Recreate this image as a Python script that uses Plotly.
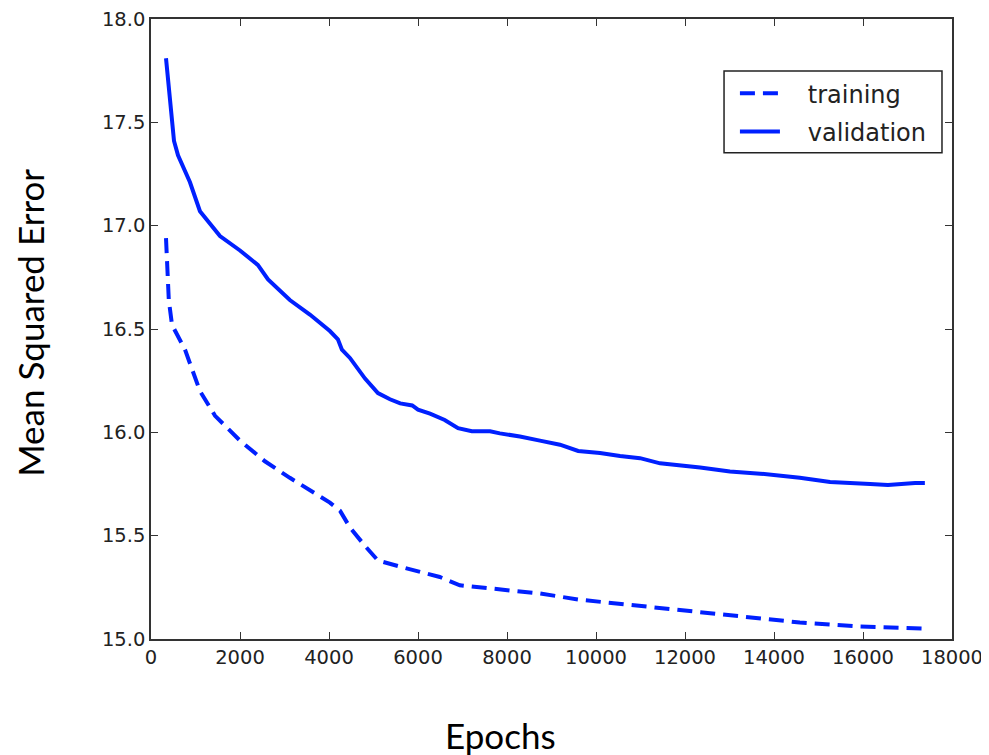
import plotly.graph_objects as go

# Validation curve (solid)
val_epochs = [337, 517, 607, 876, 1100, 1550, 2000, 2400, 2630, 3120, 3570, 4020, 4200, 4290,
              4470, 4810, 5100, 5370, 5600, 5870, 6000, 6270, 6600, 6900, 7210, 7620, 7840,
              8290, 8740, 9190, 9600, 10090, 10540, 10990, 11440, 11890, 12340, 13010, 13690,
              14580, 15260, 16160, 16560, 17170, 17390]
val_mse = [17.81, 17.41, 17.34, 17.21, 17.07, 16.95, 16.88, 16.81, 16.74, 16.64, 16.57, 16.49,
           16.45, 16.40, 16.36, 16.26, 16.19, 16.16, 16.14, 16.13, 16.11, 16.09, 16.06, 16.02,
           16.005, 16.005, 15.995, 15.98, 15.96, 15.94, 15.91, 15.90, 15.885, 15.875, 15.85,
           15.84, 15.83, 15.81, 15.80, 15.78, 15.76, 15.75, 15.745, 15.755, 15.755]

# Training curve (dashed)
train_epochs = [337, 400, 472, 764, 1100, 1440, 2000, 2560, 3120, 3570, 4020, 4250, 4470, 4810,
                5100, 5600, 6040, 6490, 6940, 7840, 8740, 9640, 10540, 11890, 13240, 14580,
                15930, 17390]
train_mse = [16.94, 16.64, 16.52, 16.40, 16.20, 16.08, 15.96, 15.86, 15.78, 15.72, 15.66, 15.62,
             15.54, 15.45, 15.38, 15.35, 15.325, 15.30, 15.26, 15.24, 15.22, 15.19, 15.17,
             15.14, 15.11, 15.08, 15.06, 15.05]

x_ticks = [0, 2000, 4000, 6000, 8000, 10000, 12000, 14000, 16000, 18000]
y_ticks = [15.0, 15.5, 16.0, 16.5, 17.0, 17.5, 18.0]
y_tick_labels = ["15.0", "15.5", "16.0", "16.5", "17.0", "17.5", "18.0"]

blue = "#0020ff"
pad = "\u00a0\u00a0\u00a0"

fig = go.Figure()
fig.add_trace(go.Scatter(x=train_epochs, y=train_mse, mode="lines", name=pad + "training",
                         legendgroup="a",
                         line=dict(color=blue, width=4, dash="15px,8px")))
fig.add_trace(go.Scatter(x=val_epochs, y=val_mse, mode="lines", name=pad + "validation",
                         legendgroup="b",
                         line=dict(color=blue, width=4)))

axis_common = dict(showline=True, linecolor="#333333", linewidth=1.5, mirror="ticks",
                   ticks="inside", ticklen=7, tickwidth=1, tickcolor="#333333",
                   showgrid=False, zeroline=False, automargin=False,
                   ticklabeloverflow="allow",
                   tickfont=dict(family="DejaVu Sans", size=19.5, color="#222222"))

fig.update_layout(
    width=981, height=747,
    margin=dict(l=143, r=37, t=11, b=116, autoexpand=False),
    paper_bgcolor="white", plot_bgcolor="white",
    xaxis=dict(range=[0, 18000], tickvals=x_ticks, ticktext=[str(v) for v in x_ticks], **axis_common),
    yaxis=dict(range=[15.0, 18.0], tickvals=y_ticks, ticktext=y_tick_labels, **axis_common),
    legend=dict(x=0.729, y=0.916, xanchor="left", yanchor="top",
                borderwidth=0, bgcolor="rgba(0,0,0,0)",
                font=dict(family="DejaVu Sans", size=24, color="#222222"),
                itemwidth=40, traceorder="grouped", tracegroupgap=4),
    showlegend=True,
    shapes=[dict(type="rect", xref="paper", yref="paper",
                 x0=0.7154, x1=0.9875, y0=0.7842, y1=0.9163,
                 line=dict(color="#222222", width=1.5), fillcolor="rgba(0,0,0,0)",
                 layer="above")],
    annotations=[
        dict(text="Epochs", x=0.436, y=-0.155, xref="paper", yref="paper",
             showarrow=False, xanchor="center", yanchor="middle",
             font=dict(family="Lato", size=35, color="black")),
        dict(text="Mean Squared Error", x=-0.151, y=0.51, xref="paper", yref="paper",
             showarrow=False, xanchor="center", yanchor="middle", textangle=-90,
             font=dict(family="Lato", size=35, color="black")),
    ],
)

fig.write_html("out.html")
